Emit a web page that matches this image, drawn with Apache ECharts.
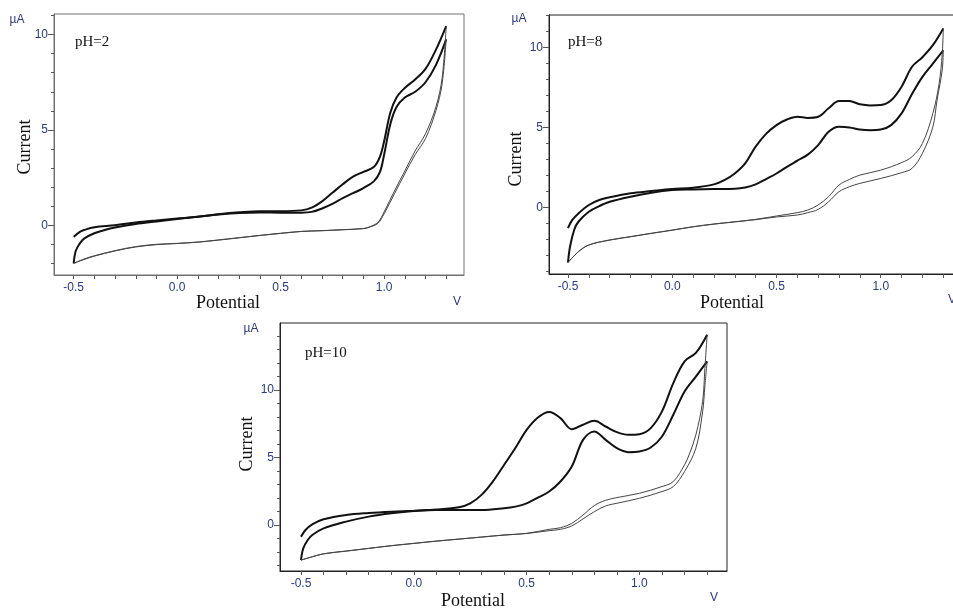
<!DOCTYPE html>
<html>
<head>
<meta charset="utf-8">
<title>Cyclic voltammograms</title>
<script src="https://cdn.jsdelivr.net/npm/echarts@6/dist/echarts.min.js"></script>
<style>
  html, body { margin: 0; padding: 0; background: #fff; }
  #main { width: 953px; height: 610px; }
</style>
</head>
<body>
<div id="main"></div>
<script>
// potential (V) / current (uA) pairs
var ph2Fwd1 = [[-0.5,-0.6],[-0.47,-0.35],[-0.45,-0.25],[-0.4,-0.1],[-0.3,0.0],[-0.2,0.14],[-0.1,0.25],[0,0.35],[0.1,0.45],[0.2,0.58],[0.3,0.68],[0.4,0.74],[0.5,0.74],[0.6,0.78],[0.65,0.92],[0.7,1.25],[0.75,1.7],[0.8,2.15],[0.85,2.55],[0.9,2.8],[0.95,3.05],[0.98,3.6],[1.0,4.4],[1.03,5.9],[1.06,6.7],[1.1,7.2],[1.15,7.65],[1.2,8.2],[1.25,9.2],[1.3,10.45]];
var ph2Fwd2 = [[-0.5,-2.0],[-0.49,-1.35],[-0.47,-0.95],[-0.45,-0.7],[-0.4,-0.42],[-0.35,-0.25],[-0.3,-0.12],[-0.2,0.07],[-0.1,0.2],[0,0.33],[0.1,0.45],[0.2,0.56],[0.3,0.64],[0.4,0.67],[0.5,0.66],[0.6,0.66],[0.65,0.7],[0.7,0.88],[0.75,1.12],[0.8,1.42],[0.85,1.68],[0.9,1.95],[0.95,2.3],[0.98,2.8],[1.0,3.7],[1.03,5.3],[1.06,6.2],[1.1,6.7],[1.15,7.0],[1.2,7.5],[1.25,8.4],[1.3,9.75]];
var ph2Rev1 = [[1.3,10.45],[1.28,7.7],[1.25,6.2],[1.2,4.8],[1.15,3.9],[1.1,2.85],[1.05,1.8],[1.0,0.7],[0.97,0.15],[0.93,-0.08],[0.9,-0.17],[0.8,-0.23],[0.7,-0.28],[0.6,-0.32],[0.5,-0.42],[0.4,-0.53],[0.3,-0.65],[0.2,-0.77],[0.1,-0.88],[0,-0.95],[-0.1,-1.0],[-0.2,-1.12],[-0.3,-1.33],[-0.4,-1.6],[-0.45,-1.77],[-0.5,-2.0]];
var ph2Rev2 = [[1.3,9.75],[1.28,7.4],[1.25,6.0],[1.2,4.55],[1.15,3.7],[1.1,2.7],[1.05,1.65],[1.0,0.6],[0.97,0.1],[0.93,-0.1],[0.9,-0.18],[0.8,-0.24],[0.7,-0.29],[0.6,-0.33],[0.5,-0.43],[0.4,-0.54],[0.3,-0.66],[0.2,-0.78],[0.1,-0.89],[0,-0.96],[-0.1,-1.02],[-0.2,-1.14],[-0.3,-1.35],[-0.4,-1.62],[-0.45,-1.8],[-0.5,-2.0]];

var ph8Fwd1 = [[-0.5,-1.3],[-0.48,-0.8],[-0.45,-0.38],[-0.4,0.15],[-0.35,0.46],[-0.3,0.63],[-0.2,0.88],[-0.1,1.02],[0,1.15],[0.1,1.23],[0.2,1.44],[0.25,1.7],[0.3,2.12],[0.35,2.75],[0.4,3.8],[0.45,4.6],[0.5,5.15],[0.55,5.5],[0.6,5.67],[0.65,5.6],[0.7,5.67],[0.75,6.2],[0.8,6.65],[0.85,6.65],[0.9,6.45],[0.95,6.38],[1.0,6.4],[1.05,6.7],[1.1,7.55],[1.15,8.8],[1.2,9.4],[1.25,10.15],[1.3,11.2]];
var ph8Fwd2 = [[-0.5,-3.45],[-0.49,-2.45],[-0.47,-1.4],[-0.45,-0.9],[-0.4,-0.27],[-0.35,0.08],[-0.3,0.35],[-0.2,0.67],[-0.1,0.92],[0,1.08],[0.1,1.12],[0.2,1.15],[0.3,1.17],[0.35,1.25],[0.4,1.44],[0.45,1.77],[0.5,2.12],[0.55,2.54],[0.6,2.92],[0.65,3.3],[0.7,3.9],[0.75,4.73],[0.8,5.04],[0.85,5.0],[0.9,4.87],[0.95,4.83],[1.0,4.87],[1.05,5.15],[1.1,5.88],[1.15,7.1],[1.2,8.17],[1.25,9.0],[1.3,9.83]];
var ph8Rev1 = [[1.3,11.2],[1.295,9.6],[1.28,7.75],[1.25,5.88],[1.2,4.0],[1.15,3.17],[1.1,2.8],[1.0,2.33],[0.9,2.02],[0.85,1.75],[0.8,1.4],[0.75,0.67],[0.7,0.15],[0.65,-0.17],[0.6,-0.33],[0.5,-0.54],[0.4,-0.75],[0.3,-0.9],[0.2,-1.04],[0.1,-1.21],[0,-1.42],[-0.1,-1.62],[-0.2,-1.83],[-0.3,-2.04],[-0.4,-2.35],[-0.45,-2.77],[-0.5,-3.45]];
var ph8Rev2 = [[1.3,9.83],[1.295,8.6],[1.27,6.7],[1.25,5.04],[1.2,3.38],[1.15,2.44],[1.1,2.17],[1.0,1.81],[0.9,1.5],[0.85,1.29],[0.8,0.98],[0.75,0.35],[0.7,-0.13],[0.65,-0.33],[0.6,-0.48],[0.5,-0.6],[0.4,-0.77],[0.3,-0.91],[0.2,-1.05],[0.1,-1.22],[0,-1.43],[-0.1,-1.63],[-0.2,-1.84],[-0.3,-2.05],[-0.4,-2.36],[-0.45,-2.78],[-0.5,-3.45]];

var ph10Fwd1 = [[-0.5,-0.87],[-0.48,-0.37],[-0.45,0.05],[-0.4,0.42],[-0.3,0.74],[-0.2,0.89],[-0.1,0.99],[0,1.06],[0.1,1.14],[0.2,1.31],[0.25,1.6],[0.3,2.23],[0.35,3.22],[0.4,4.45],[0.45,5.7],[0.5,7.05],[0.55,7.97],[0.6,8.37],[0.65,7.92],[0.7,7.1],[0.75,7.43],[0.8,7.72],[0.85,7.3],[0.9,6.88],[0.95,6.68],[1.0,6.73],[1.05,7.18],[1.1,8.42],[1.15,10.52],[1.2,12.13],[1.25,12.75],[1.3,14.1]];
var ph10Fwd2 = [[-0.5,-2.6],[-0.49,-1.73],[-0.47,-1.11],[-0.45,-0.74],[-0.4,-0.25],[-0.3,0.25],[-0.2,0.62],[-0.1,0.87],[0,1.04],[0.1,1.11],[0.2,1.11],[0.3,1.11],[0.4,1.24],[0.45,1.36],[0.5,1.6],[0.55,2.03],[0.6,2.48],[0.65,3.22],[0.7,4.33],[0.75,6.31],[0.8,6.93],[0.85,6.31],[0.9,5.69],[0.95,5.4],[1.0,5.45],[1.05,5.74],[1.1,6.56],[1.15,8.17],[1.2,9.9],[1.25,11.0],[1.3,12.13]];
var ph10Rev1 = [[1.3,14.1],[1.29,11.6],[1.28,9.16],[1.25,6.68],[1.22,5.2],[1.2,4.46],[1.15,3.22],[1.1,2.85],[1.0,2.35],[0.9,2.03],[0.85,1.83],[0.8,1.44],[0.75,0.74],[0.7,0.12],[0.65,-0.2],[0.6,-0.32],[0.5,-0.62],[0.4,-0.74],[0.3,-0.89],[0.2,-1.04],[0.1,-1.19],[0,-1.36],[-0.1,-1.53],[-0.2,-1.73],[-0.3,-1.93],[-0.4,-2.13],[-0.45,-2.35],[-0.5,-2.6]];
var ph10Rev2 = [[1.3,12.13],[1.29,10.3],[1.28,8.4],[1.25,5.69],[1.2,3.96],[1.15,2.85],[1.1,2.48],[1.0,1.98],[0.9,1.61],[0.85,1.41],[0.8,0.99],[0.75,0.45],[0.7,-0.07],[0.65,-0.32],[0.6,-0.42],[0.5,-0.63],[0.4,-0.75],[0.3,-0.9],[0.2,-1.05],[0.1,-1.2],[0,-1.37],[-0.1,-1.54],[-0.2,-1.74],[-0.3,-1.94],[-0.4,-2.14],[-0.45,-2.36],[-0.5,-2.6]];

// tick positions
var xTicks = [-0.5,-0.4,-0.3,-0.2,-0.1,0,0.1,0.2,0.3,0.4,0.5,0.6,0.7,0.8,0.9,1.0,1.1,1.2,1.3];
var xLabels = [-0.5, 0, 0.5, 1.0];
var yLabels = [0, 5, 10];
var yTicks2 = [-2,-1,0,1,2,3,4,5,6,7,8,9,10,11];
var yTicks8 = [-4,-3,-2,-1,0,1,2,3,4,5,6,7,8,9,10,11,12];
var yTicks10 = [-3,-2,-1,0,1,2,3,4,5,6,7,8,9,10,11,12,13,14];
var phNames = ['pH=2', 'pH=8', 'pH=10'];

var labelColor = '#2b3a7a';
var sans = 'Liberation Sans, Arial, sans-serif';
var serif = 'Liberation Serif, Times New Roman, serif';

var panels = [
    { left: 54, top: 14, width: 410, height: 261, xMin: -0.595, xMax: 1.386, yMin: -2.61, yMax: 11.08,
      yTicks: yTicks2, frame: '#707070', curves: [ph2Fwd1, ph2Fwd2, ph2Rev1, ph2Rev2] },
    { left: 549, top: 15, width: 412, height: 259, xMin: -0.591, xMax: 1.385, yMin: -4.17, yMax: 12.04,
      yTicks: yTicks8, frame: '#222', curves: [ph8Fwd1, ph8Fwd2, ph8Rev1, ph8Rev2] },
    { left: 280, top: 323, width: 447, height: 248, xMin: -0.593, xMax: 1.388, yMin: -3.41, yMax: 14.97,
      yTicks: yTicks10, frame: '#222', curves: [ph10Fwd1, ph10Fwd2, ph10Rev1, ph10Rev2] }
];

// text spots: uA, pH, Current, Potential, V
var textSpots = [
    { ua: [17, 20], ph: [75, 42], cur: [25, 147], pot: [228, 303], v: [457, 302] },
    { ua: [519, 19], ph: [568, 42], cur: [516, 159], pot: [732, 303], v: [952, 300] },
    { ua: [251, 329], ph: [305, 353], cur: [247, 444], pot: [473, 601], v: [714, 598] }
];

var grids = [], xAxes = [], yAxes = [], series = [], graphics = [];

panels.forEach(function (p, i) {
    grids.push({
        left: p.left, top: p.top, width: p.width, height: p.height,
        outerBoundsMode: 'none', containLabel: false,
        show: true, borderColor: p.frame, borderWidth: 1, backgroundColor: 'transparent'
    });
    xAxes.push({
        type: 'value', gridIndex: i, min: p.xMin, max: p.xMax, position: 'bottom',
        axisLine: { show: true, onZero: false, lineStyle: { color: p.frame, width: 1 } },
        axisTick: { show: true, length: 4, customValues: xTicks, lineStyle: { color: '#555' } },
        axisLabel: {
            customValues: xLabels, margin: 7, color: labelColor, fontSize: 12, fontFamily: sans,
            formatter: function (v) { return Number(v).toFixed(1); }
        },
        splitLine: { show: false }
    });
    // minor ticks
    yAxes.push({
        type: 'value', gridIndex: i, min: p.yMin, max: p.yMax, position: 'left',
        axisLine: { show: true, onZero: false, lineStyle: { color: p.frame, width: 1 } },
        axisTick: { show: true, length: 3, customValues: p.yTicks, lineStyle: { color: '#555' } },
        axisLabel: { show: false },
        splitLine: { show: false }
    });
    // major ticks + labels
    yAxes.push({
        type: 'value', gridIndex: i, min: p.yMin, max: p.yMax, position: 'left', offset: 0,
        axisLine: { show: false, onZero: false },
        axisTick: { show: true, length: 6, customValues: yLabels, lineStyle: { color: '#555' } },
        axisLabel: {
            customValues: yLabels, margin: 6, color: labelColor, fontSize: 12, fontFamily: sans,
            padding: [0, 0, 7, 0]
        },
        splitLine: { show: false }
    });
    p.curves.forEach(function (d, k) {
        var thick = k < 2;
        series.push({
            type: 'line', xAxisIndex: i, yAxisIndex: i * 2, data: d,
            showSymbol: false, smooth: 0.35, silent: true,
            lineStyle: { color: thick ? '#111' : '#444', width: thick ? 2 : 1 }
        });
    });

    var t = textSpots[i];
    graphics.push({ type: 'text', x: t.ua[0], y: t.ua[1],
        style: { text: 'µA', fill: labelColor, font: '12px ' + sans, textAlign: 'center', textVerticalAlign: 'middle' } });
    graphics.push({ type: 'text', x: t.ph[0], y: t.ph[1],
        style: { text: phNames[i], fill: '#111', font: '15px ' + serif, textAlign: 'left', textVerticalAlign: 'middle' } });
    graphics.push({ type: 'text', x: t.cur[0], y: t.cur[1], rotation: Math.PI / 2,
        style: { text: 'Current', fill: '#111', font: '18px ' + serif, textAlign: 'center', textVerticalAlign: 'middle' } });
    graphics.push({ type: 'text', x: t.pot[0], y: t.pot[1],
        style: { text: 'Potential', fill: '#111', font: '18px ' + serif, textAlign: 'center', textVerticalAlign: 'middle' } });
    graphics.push({ type: 'text', x: t.v[0], y: t.v[1],
        style: { text: 'V', fill: labelColor, font: '12px ' + sans, textAlign: 'center', textVerticalAlign: 'middle' } });
});

var myChart = echarts.init(document.getElementById('main'), null, { renderer: 'canvas' });
var option = {
    backgroundColor: '#fff',
    animation: false,
    grid: grids,
    xAxis: xAxes,
    yAxis: yAxes,
    series: series,
    graphic: graphics
};
myChart.setOption(option);
</script>
</body>
</html>
